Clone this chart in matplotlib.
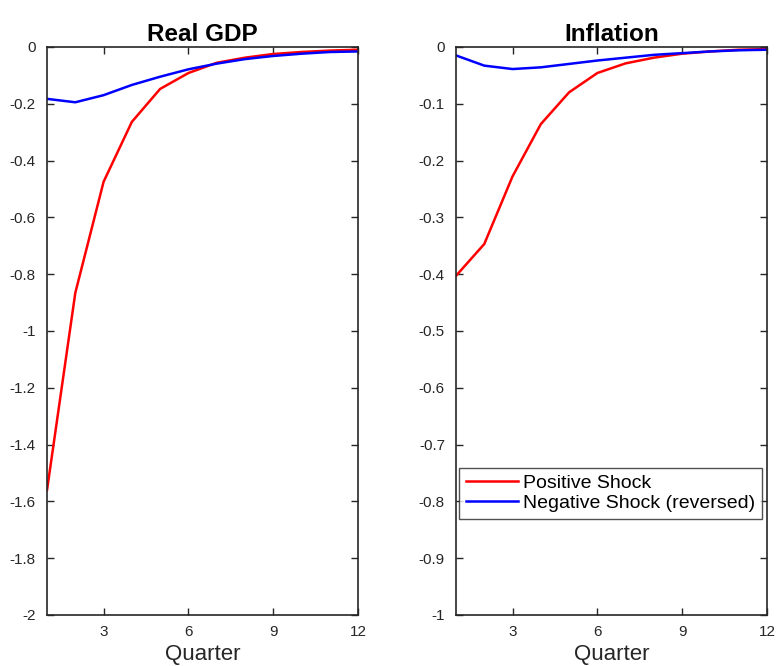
import numpy as np
import matplotlib
matplotlib.use("Agg")
import matplotlib.pyplot as plt
from matplotlib.ticker import FuncFormatter

plt.rcParams['font.family'] = ['Liberation Sans', 'DejaVu Sans']

quarters = list(range(1, 13))

# Real GDP responses
gdp_pos = [-1.56, -0.866, -0.475, -0.264, -0.148, -0.092, -0.056, -0.038, -0.025, -0.018, -0.013, -0.010]
gdp_neg = [-0.183, -0.195, -0.170, -0.134, -0.105, -0.079, -0.059, -0.043, -0.032, -0.024, -0.018, -0.016]

# Inflation responses
inf_pos = [-0.403, -0.347, -0.228, -0.136, -0.080, -0.046, -0.029, -0.019, -0.012, -0.008, -0.005, -0.004]
inf_neg = [-0.015, -0.033, -0.039, -0.036, -0.030, -0.024, -0.019, -0.014, -0.011, -0.008, -0.006, -0.005]

titles = ["Real GDP", "Inflation"]
labels = ["Positive Shock", "Negative Shock (reversed)"]


def fmt(v, pos):
    s = "%g" % round(v, 6)
    return "0" if s == "-0" else s


fig = plt.figure(figsize=(7.8, 6.66), dpi=100)
ax1 = fig.add_axes([0.0603, 0.0766, 0.3987, 0.853])
ax2 = fig.add_axes([0.5846, 0.0766, 0.3987, 0.853])

panels = [(ax1, gdp_pos, gdp_neg, -2, 0.2), (ax2, inf_pos, inf_neg, -1, 0.1)]
for i, (ax, pos, neg, ymin, step) in enumerate(panels):
    ax.plot(quarters, pos, color='red', lw=1.8, label=labels[0])
    ax.plot(quarters, neg, color='blue', lw=1.8, label=labels[1])
    ax.set_xlim(1, 12)
    ax.set_ylim(ymin, 0)
    ax.set_xticks([3, 6, 9, 12])
    ax.set_yticks(np.arange(ymin, 0.001, step))
    ax.yaxis.set_major_formatter(FuncFormatter(fmt))
    ax.tick_params(direction='in', top=True, right=True, length=5,
                   width=1, labelsize=11, colors='#262626', labelcolor='#262626')
    ax.tick_params(axis='y', pad=8)
    ax.tick_params(axis='x', pad=7)
    for sp in ax.spines.values():
        sp.set_linewidth(1.2)
        sp.set_color('#262626')
    ax.set_title(titles[i], fontsize=17.5, fontweight='bold', pad=4)
    ax.set_xlabel("Quarter", fontsize=16, color='#262626', labelpad=4)

leg = ax2.legend(loc='upper left', bbox_to_anchor=(0.01, 0.259), fontsize=14,
                 frameon=True, fancybox=False, borderpad=0.35, labelspacing=0.12,
                 handlelength=2.7, handletextpad=0.25, borderaxespad=0.0)
leg.get_frame().set_edgecolor('#262626')
leg.get_frame().set_linewidth(1.0)

fig.savefig("out.png", dpi=100)
